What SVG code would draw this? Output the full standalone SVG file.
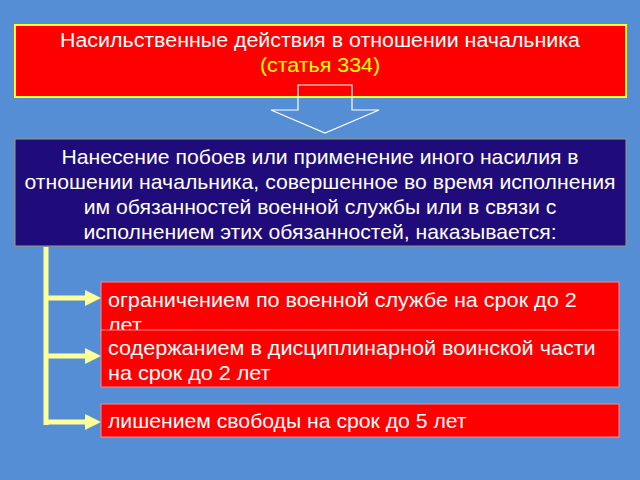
<svg xmlns="http://www.w3.org/2000/svg" width="640" height="480" viewBox="0 0 640 480">
<style>
text{font-family:"Liberation Sans",Arial,sans-serif;font-size:20px;}
.w{fill:#ffffff;}
.c{text-anchor:middle;}
.box{fill:#ff0000;stroke:#f09090;stroke-width:1;}
.conn{stroke:#ffff99;stroke-width:5;fill:none;}
.head{fill:#ffff99;}
</style>
<rect width="640" height="480" fill="#558ed5"/>
<g id="title">
<rect x="15" y="25" width="611" height="72" fill="#ff0000" stroke="#ffff33" stroke-width="2"/>
<g transform="translate(320,0) scale(1.07,1)">
<text class="w c" x="0" y="47">Насильственные действия в отношении начальника</text>
<text class="c" x="0" y="72" fill="#ffff00">(статья 334)</text>
</g>
</g>
<g id="bigarrow">
<path d="M298 85 H352 V110 H379 L325 133 L271 110 H298 Z" fill="none" stroke="#ffffff" stroke-width="1.2"/>
</g>
<g id="desc">
<rect x="15" y="139" width="611" height="107" fill="#1f0c7a" stroke="#9a9a70" stroke-width="1"/>
<text class="w c" transform="translate(320,0) scale(1.06,1)"><tspan x="0" y="164">Нанесение побоев или применение иного насилия в</tspan><tspan x="0" y="189">отношении начальника, совершенное во время исполнения</tspan><tspan x="0" y="214">им обязанностей военной службы или в связи с</tspan><tspan x="0" y="239">исполнением этих обязанностей, наказывается:</tspan></text>
</g>
<g id="connectors">
<path class="conn" d="M46 247 V425 M46 298 H88 M46 356 H88 M46 422 H88"/>
<path class="head" d="M85 290 L101 298 L85 306 Z M85 348 L101 356 L85 364 Z M85 414 L101 422 L85 430 Z"/>
</g>
<g id="opt1">
<rect class="box" x="101" y="282" width="518" height="55"/>
<text class="w" transform="translate(108,0) scale(1.08,1)"><tspan x="0" y="307">ограничением по военной службе на срок до 2</tspan><tspan x="0" y="332">лет</tspan></text>
</g>
<g id="opt2">
<rect class="box" x="101" y="330" width="518" height="57"/>
<text class="w" transform="translate(108,0) scale(1.08,1)"><tspan x="0" y="355">содержанием в дисциплинарной воинской части</tspan><tspan x="0" y="380">на срок до 2 лет</tspan></text>
</g>
<g id="opt3">
<rect class="box" x="101" y="404" width="518" height="33"/>
<text class="w" transform="translate(108,0) scale(1.06,1)" x="0" y="428">лишением свободы на срок до 5 лет</text>
</g>
</svg>
